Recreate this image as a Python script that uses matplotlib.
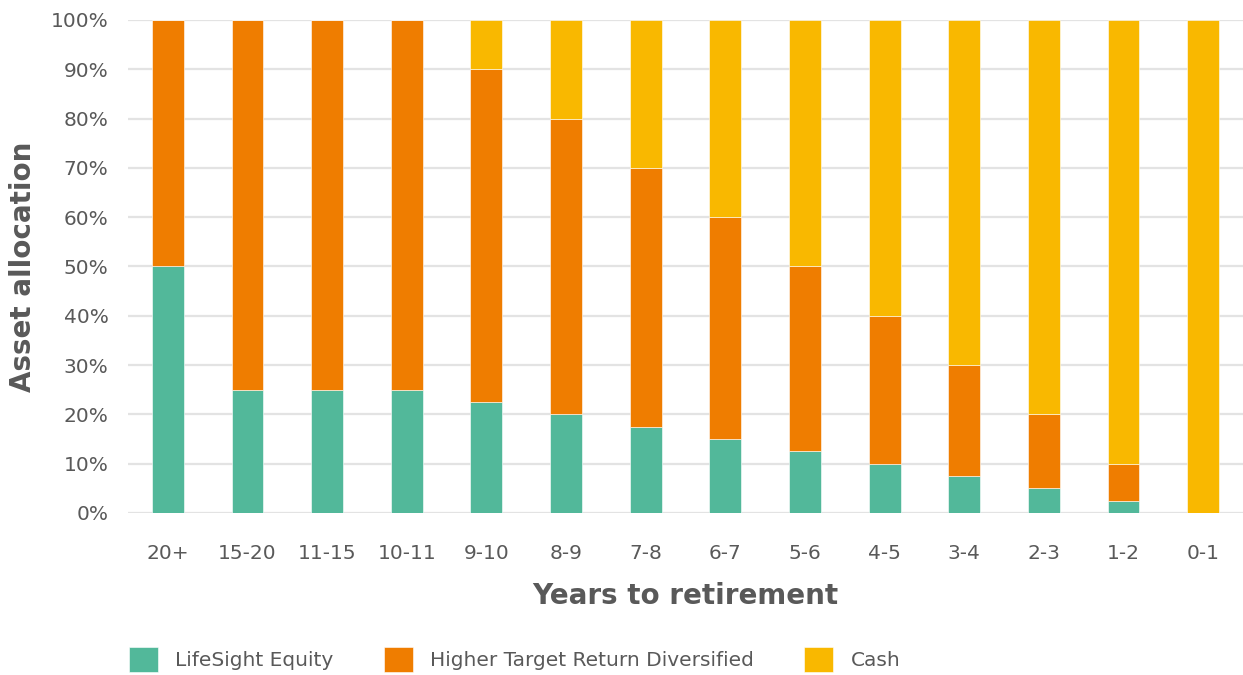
import matplotlib
matplotlib.use("Agg")
import matplotlib.pyplot as plt
import numpy as np

categories = ["20+", "15-20", "11-15", "10-11", "9-10", "8-9", "7-8", "6-7",
              "5-6", "4-5", "3-4", "2-3", "1-2", "0-1"]
equity = [50, 25, 25, 25, 22.5, 20, 17.5, 15, 12.5, 10, 7.5, 5, 2.5, 0]
diversified = [50, 75, 75, 75, 67.5, 60, 52.5, 45, 37.5, 30, 22.5, 15, 7.5, 0]
cash = [0, 0, 0, 0, 10, 20, 30, 40, 50, 60, 70, 80, 90, 100]
series_names = ["LifeSight Equity", "Higher Target Return Diversified", "Cash"]
colors = ["#52B89A", "#EF7D00", "#F9B800"]
yticks = list(range(0, 101, 10))

txt = "#595959"
plt.rcParams["font.family"] = ["DejaVu Sans"]

fig = plt.figure(figsize=(12.43, 6.75), dpi=100)
ax = fig.add_axes([0.103, 0.24, 0.897, 0.7304])

x = np.arange(len(categories))
w = 0.4
bottom = np.zeros(len(categories))
handles = []
for vals, c, name in zip([equity, diversified, cash], colors, series_names):
    vals = np.array(vals, dtype=float)
    b = ax.bar(x, vals, w, bottom=bottom, color=c, edgecolor="white",
               linewidth=0.4, label=name, zorder=3)
    handles.append(b)
    bottom += vals

ax.set_xlim(-0.5, len(categories) - 0.5)
ax.set_ylim(0, 100)
ax.set_yticks(yticks)
ax.set_yticklabels([f"{t}%" for t in yticks])
ax.set_xticks(x)
ax.set_xticklabels(categories)
ax.tick_params(axis="both", length=0, labelsize=14.5, colors=txt)
ax.tick_params(axis="x", pad=22)
ax.tick_params(axis="y", pad=14)
for s in ax.spines.values():
    s.set_visible(False)
ax.yaxis.grid(True, color="#e3e3e3", linewidth=1.6, zorder=0)
ax.set_axisbelow(True)

ax.set_xlabel("Years to retirement", fontsize=20, fontweight="bold",
              color=txt, labelpad=14)
ax.set_ylabel("Asset allocation", fontsize=20, fontweight="bold",
              color=txt, labelpad=10)

leg = fig.legend(handles=[h for h in handles], labels=series_names,
                 loc="center left", bbox_to_anchor=(0.089, 0.023), ncol=3,
                 frameon=False, fontsize=14.5, handlelength=1.45,
                 handleheight=1.6, handletextpad=0.85, columnspacing=2.5)
for t in leg.get_texts():
    t.set_color(txt)

fig.savefig("out.png", dpi=100)
